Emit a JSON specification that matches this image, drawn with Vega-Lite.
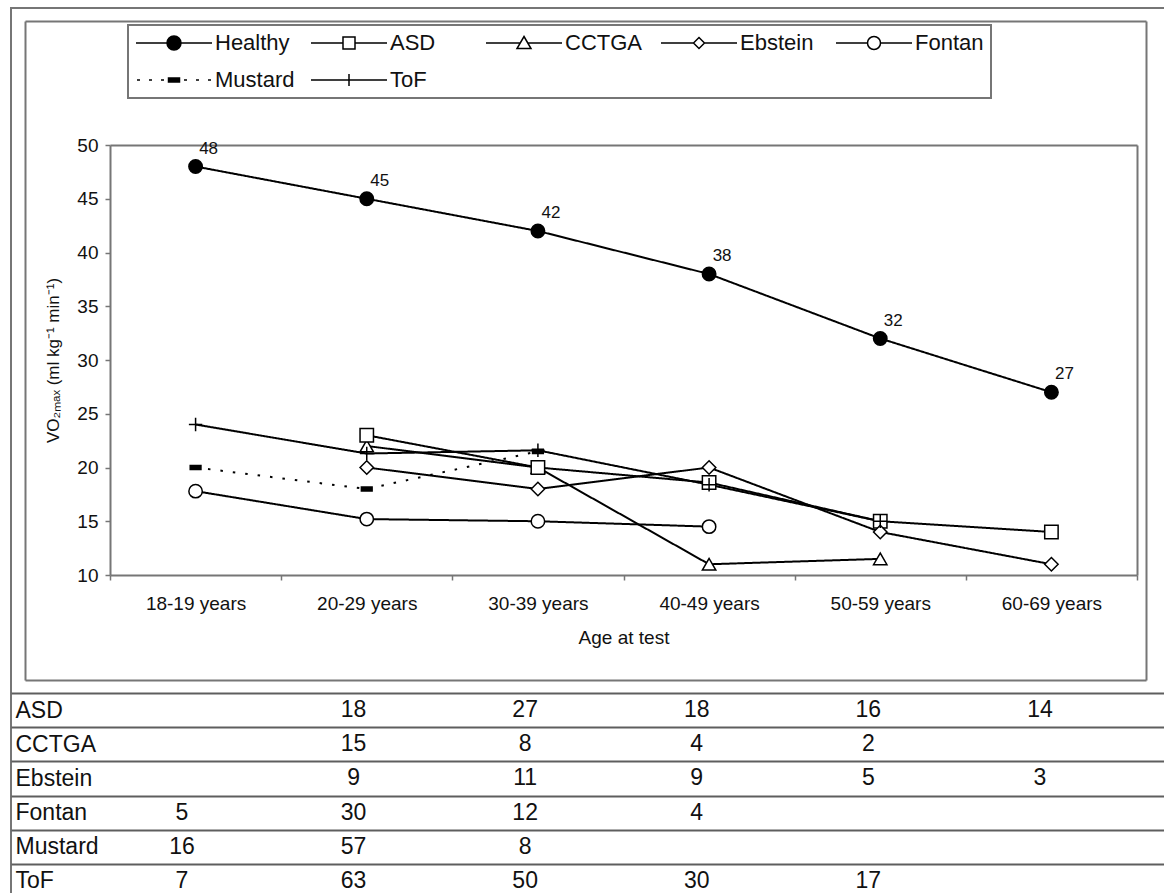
{
  "$schema": "https://vega.github.io/schema/vega-lite/v6.json",
  "width": 1160,
  "height": 895,
  "autosize": {"type": "none"},
  "padding": {"left": 11, "top": 8, "right": -7, "bottom": -10},
  "background": "white",
  "config": {
    "view": {"stroke": "#767676", "strokeWidth": 2},
    "font": "Liberation Sans",
    "axis": {
      "domainColor": "#767676",
      "domainWidth": 2,
      "tickColor": "#767676",
      "tickWidth": 1.5,
      "labelColor": "#111111",
      "titleColor": "#111111",
      "labelFont": "Liberation Sans",
      "titleFont": "Liberation Sans",
      "titleFontWeight": "normal",
      "grid": false
    },
    "legend": {"strokeWidth": 2},
    "text": {"font": "Liberation Sans", "color": "#111111"}
  },
  "datasets": {
    "vo2": [
      {"series": "Healthy", "age": "18-19 years", "vo2": 48},
      {"series": "Healthy", "age": "20-29 years", "vo2": 45},
      {"series": "Healthy", "age": "30-39 years", "vo2": 42},
      {"series": "Healthy", "age": "40-49 years", "vo2": 38},
      {"series": "Healthy", "age": "50-59 years", "vo2": 32},
      {"series": "Healthy", "age": "60-69 years", "vo2": 27},
      {"series": "CCTGA", "age": "20-29 years", "vo2": 22},
      {"series": "CCTGA", "age": "30-39 years", "vo2": 20},
      {"series": "CCTGA", "age": "40-49 years", "vo2": 11},
      {"series": "CCTGA", "age": "50-59 years", "vo2": 11.5},
      {"series": "ASD", "age": "20-29 years", "vo2": 23},
      {"series": "ASD", "age": "30-39 years", "vo2": 20},
      {"series": "ASD", "age": "40-49 years", "vo2": 18.6},
      {"series": "ASD", "age": "50-59 years", "vo2": 15},
      {"series": "ASD", "age": "60-69 years", "vo2": 14},
      {"series": "Ebstein", "age": "20-29 years", "vo2": 20},
      {"series": "Ebstein", "age": "30-39 years", "vo2": 18},
      {"series": "Ebstein", "age": "40-49 years", "vo2": 20},
      {"series": "Ebstein", "age": "50-59 years", "vo2": 14},
      {"series": "Ebstein", "age": "60-69 years", "vo2": 11},
      {"series": "Fontan", "age": "18-19 years", "vo2": 17.8},
      {"series": "Fontan", "age": "20-29 years", "vo2": 15.2},
      {"series": "Fontan", "age": "30-39 years", "vo2": 15},
      {"series": "Fontan", "age": "40-49 years", "vo2": 14.5},
      {"series": "Mustard", "age": "18-19 years", "vo2": 20},
      {"series": "Mustard", "age": "20-29 years", "vo2": 18},
      {"series": "Mustard", "age": "30-39 years", "vo2": 21.5},
      {"series": "ToF", "age": "18-19 years", "vo2": 24},
      {"series": "ToF", "age": "20-29 years", "vo2": 21.3},
      {"series": "ToF", "age": "30-39 years", "vo2": 21.6},
      {"series": "ToF", "age": "40-49 years", "vo2": 18.4},
      {"series": "ToF", "age": "50-59 years", "vo2": 15}
    ],
    "counts": [
      {"series": "ASD", "age": "20-29 years", "n": 18},
      {"series": "ASD", "age": "30-39 years", "n": 27},
      {"series": "ASD", "age": "40-49 years", "n": 18},
      {"series": "ASD", "age": "50-59 years", "n": 16},
      {"series": "ASD", "age": "60-69 years", "n": 14},
      {"series": "CCTGA", "age": "20-29 years", "n": 15},
      {"series": "CCTGA", "age": "30-39 years", "n": 8},
      {"series": "CCTGA", "age": "40-49 years", "n": 4},
      {"series": "CCTGA", "age": "50-59 years", "n": 2},
      {"series": "Ebstein", "age": "20-29 years", "n": 9},
      {"series": "Ebstein", "age": "30-39 years", "n": 11},
      {"series": "Ebstein", "age": "40-49 years", "n": 9},
      {"series": "Ebstein", "age": "50-59 years", "n": 5},
      {"series": "Ebstein", "age": "60-69 years", "n": 3},
      {"series": "Fontan", "age": "18-19 years", "n": 5},
      {"series": "Fontan", "age": "20-29 years", "n": 30},
      {"series": "Fontan", "age": "30-39 years", "n": 12},
      {"series": "Fontan", "age": "40-49 years", "n": 4},
      {"series": "Mustard", "age": "18-19 years", "n": 16},
      {"series": "Mustard", "age": "20-29 years", "n": 57},
      {"series": "Mustard", "age": "30-39 years", "n": 8},
      {"series": "ToF", "age": "18-19 years", "n": 7},
      {"series": "ToF", "age": "20-29 years", "n": 63},
      {"series": "ToF", "age": "30-39 years", "n": 50},
      {"series": "ToF", "age": "40-49 years", "n": 30},
      {"series": "ToF", "age": "50-59 years", "n": 17}
    ]
  },
  "resolve": {
    "scale": {"x": "independent", "y": "independent", "shape": "independent", "fill": "independent", "stroke": "independent", "strokeDash": "independent"},
    "axis": {"x": "independent", "y": "independent"},
    "legend": {"shape": "independent", "fill": "independent", "stroke": "independent", "strokeDash": "independent"}
  },
  "layer": [
    {
      "description": "Chart-area frame: top and left edges",
      "data": {"name": "vo2"},
      "mark": {"type": "point", "opacity": 0},
      "encoding": {
        "x": {"field": "age", "type": "nominal",
              "scale": {"type": "band", "domain": ["18-19 years", "20-29 years", "30-39 years", "40-49 years", "50-59 years", "60-69 years"], "range": [14, 1135], "paddingInner": 0, "paddingOuter": 0},
              "axis": {"orient": "top", "offset": -13, "labels": false, "ticks": false, "title": null}},
        "y": {"field": "vo2", "type": "quantitative",
              "scale": {"domain": [10, 50], "range": [672, 13], "zero": false, "nice": false},
              "axis": {"orient": "left", "offset": -14, "labels": false, "ticks": false, "title": null}}
      }
    },
    {
      "description": "Chart-area frame: bottom and right edges",
      "data": {"name": "vo2"},
      "mark": {"type": "point", "opacity": 0},
      "encoding": {
        "x": {"field": "age", "type": "nominal",
              "scale": {"type": "band", "domain": ["18-19 years", "20-29 years", "30-39 years", "40-49 years", "50-59 years", "60-69 years"], "range": [14, 1135], "paddingInner": 0, "paddingOuter": 0},
              "axis": {"orient": "bottom", "offset": -223, "labels": false, "ticks": false, "title": null}},
        "y": {"field": "vo2", "type": "quantitative",
              "scale": {"domain": [10, 50], "range": [672, 13], "zero": false, "nice": false},
              "axis": {"orient": "right", "offset": -25, "labels": false, "ticks": false, "title": null}}
      }
    },
    {
      "description": "Patient counts table under the chart",
      "data": {"name": "counts"},
      "mark": {"type": "text", "fontSize": 23, "baseline": "middle", "align": "center"},
      "encoding": {
        "x": {"field": "age", "type": "nominal",
              "scale": {"type": "band", "domain": ["18-19 years", "20-29 years", "30-39 years", "40-49 years", "50-59 years", "60-69 years"], "range": [0, 1160], "paddingInner": 0, "paddingOuter": 0.38, "align": 0.653},
              "axis": null},
        "y": {"field": "series", "type": "nominal",
              "scale": {"type": "band", "domain": ["ASD", "CCTGA", "Ebstein", "Fontan", "Mustard", "ToF"], "range": [685, 890], "paddingInner": 0, "paddingOuter": 0},
              "axis": {"orient": "left", "offset": 0, "domain": false, "ticks": false, "tickSize": 0,
                       "grid": true, "tickBand": "extent", "gridColor": "#5e5e5e", "gridWidth": 2,
                       "labelAlign": "left", "labelPadding": -4, "labelFontSize": 23, "labelBaseline": "middle", "title": null}},
        "text": {"field": "n", "type": "quantitative"}
      }
    },
    {
      "description": "Series lines with the plot axes",
      "data": {"name": "vo2"},
      "mark": {"type": "line", "strokeWidth": 2, "color": "black"},
      "encoding": {
        "x": {"field": "age", "type": "nominal",
              "scale": {"type": "band", "domain": ["18-19 years", "20-29 years", "30-39 years", "40-49 years", "50-59 years", "60-69 years"], "range": [99, 1126], "paddingInner": 0, "paddingOuter": 0},
              "axis": {"orient": "bottom", "offset": -328, "title": "Age at test", "titleFontSize": 19, "titlePadding": 15,
                       "labelFontSize": 19, "labelPadding": 14, "labelAngle": 0, "tickSize": 5, "tickBand": "extent"}},
        "y": {"field": "vo2", "type": "quantitative",
              "scale": {"domain": [10, 50], "range": [567, 137], "zero": false, "nice": false},
              "axis": {"orient": "left", "offset": -99, "values": [10, 15, 20, 25, 30, 35, 40, 45, 50],
                       "tickSize": 5, "labelPadding": 7, "labelFontSize": 19,
                       "title": "VO₂ₘₐₓ (ml kg⁻¹ min⁻¹)", "titleFontSize": 17, "titlePadding": 14}},
        "detail": {"field": "series", "type": "nominal"},
        "strokeDash": {"field": "series", "type": "nominal", "legend": null,
                       "scale": {"domain": ["Healthy", "ASD", "CCTGA", "Ebstein", "Fontan", "Mustard", "ToF"],
                                 "range": [[1, 0], [1, 0], [1, 0], [1, 0], [1, 0], [2.5, 10], [1, 0]]}}
      }
    },
    {
      "description": "Series markers; also carries the top and right edges of the plot box",
      "data": {"name": "vo2"},
      "mark": {"type": "point", "filled": true, "size": 180, "stroke": "black", "strokeWidth": 1.5, "opacity": 1},
      "encoding": {
        "x": {"field": "age", "type": "nominal",
              "scale": {"type": "band", "domain": ["18-19 years", "20-29 years", "30-39 years", "40-49 years", "50-59 years", "60-69 years"], "range": [99, 1126], "paddingInner": 0, "paddingOuter": 0},
              "axis": {"orient": "top", "offset": -137, "labels": false, "ticks": false, "title": null}},
        "y": {"field": "vo2", "type": "quantitative",
              "scale": {"domain": [10, 50], "range": [567, 137], "zero": false, "nice": false},
              "axis": {"orient": "right", "offset": -34, "labels": false, "ticks": false, "title": null}},
        "shape": {"field": "series", "type": "nominal", "legend": null,
                  "scale": {"domain": ["Healthy", "ASD", "CCTGA", "Ebstein", "Fontan", "Mustard", "ToF"],
                            "range": ["circle", "square", "triangle-up", "diamond", "circle", "M-0.8,-0.3H0.8V0.3H-0.8Z", "M-1,0H1M0,-1V1"]}},
        "fill": {"field": "series", "type": "nominal", "legend": null,
                 "scale": {"domain": ["Healthy", "ASD", "CCTGA", "Ebstein", "Fontan", "Mustard", "ToF"],
                           "range": ["black", "white", "white", "white", "white", "black", "white"]}}
      }
    },
    {
      "description": "Value labels on the Healthy series",
      "data": {"name": "vo2"},
      "transform": [{"filter": "datum.series === 'Healthy'"}],
      "mark": {"type": "text", "fontSize": 17, "dx": 13, "dy": -18, "align": "center", "baseline": "middle"},
      "encoding": {
        "x": {"field": "age", "type": "nominal",
              "scale": {"type": "band", "domain": ["18-19 years", "20-29 years", "30-39 years", "40-49 years", "50-59 years", "60-69 years"], "range": [99, 1126], "paddingInner": 0, "paddingOuter": 0},
              "axis": null},
        "y": {"field": "vo2", "type": "quantitative",
              "scale": {"domain": [10, 50], "range": [567, 137], "zero": false, "nice": false},
              "axis": null},
        "text": {"field": "vo2", "type": "quantitative"}
      }
    },
    {
      "description": "Legend: line-and-marker keys for each series",
      "data": {"name": "vo2"},
      "mark": {"type": "point", "filled": true, "opacity": 0, "strokeWidth": 1.5},
      "encoding": {
        "x": {"field": "age", "type": "nominal",
              "scale": {"type": "band", "domain": ["18-19 years", "20-29 years", "30-39 years", "40-49 years", "50-59 years", "60-69 years"], "range": [99, 1126], "paddingInner": 0, "paddingOuter": 0},
              "axis": null},
        "y": {"field": "vo2", "type": "quantitative",
              "scale": {"domain": [10, 50], "range": [567, 137], "zero": false, "nice": false},
              "axis": null},
        "shape": {"field": "series", "type": "nominal",
                  "scale": {"domain": ["Healthy", "ASD", "CCTGA", "Ebstein", "Fontan", "Mustard", "ToF"],
                            "range": [
                              "M-3.8,0H-0.7M0.7,0H3.8M-0.7,0A0.7,0.7,0,1,0,0.7,0A0.7,0.7,0,1,0,-0.7,0Z",
                              "M-3.8,0H-0.6M0.6,0H3.8M-0.6,-0.6H0.6V0.6H-0.6Z",
                              "M-3.8,0H-0.38M0.38,0H3.8M0,-0.65L0.7,0.55H-0.7Z",
                              "M-3.8,0H-0.55M0.55,0H3.8M-0.55,0L0,-0.55L0.55,0L0,0.55Z",
                              "M-3.8,0H-0.65M0.65,0H3.8M-0.65,0A0.65,0.65,0,1,0,0.65,0A0.65,0.65,0,1,0,-0.65,0Z",
                              "M-3.7,0H-3.4M-2.5,0H-2.2M-1.3,0H-1.0M1.0,0H1.3M2.2,0H2.5M3.4,0H3.7M-0.55,-0.2H0.55V0.2H-0.55Z",
                              "M-3.8,0H3.8M0,-0.6V0.6"
                            ]},
                  "legend": {
                    "title": null, "orient": "none", "legendX": 117, "legendY": 17,
                    "direction": "horizontal", "columns": 5, "gridAlign": "all",
                    "symbolSize": 400, "symbolStrokeWidth": 1.5, "symbolOpacity": 1, "symbolOffset": 28,
                    "labelFontSize": 22, "labelFont": "Liberation Sans", "labelColor": "#111111",
                    "labelOffset": 30, "columnPadding": 13, "rowPadding": 15, "padding": 7,
                    "strokeColor": "#767676"
                  }},
        "fill": {"field": "series", "type": "nominal",
                 "scale": {"domain": ["Healthy", "ASD", "CCTGA", "Ebstein", "Fontan", "Mustard", "ToF"],
                           "range": ["black", "white", "white", "white", "white", "black", "white"]},
                 "legend": {
                    "title": null, "orient": "none", "legendX": 117, "legendY": 17,
                    "direction": "horizontal", "columns": 5, "gridAlign": "all",
                    "symbolSize": 400, "symbolStrokeWidth": 1.5, "symbolOpacity": 1, "symbolOffset": 28,
                    "labelFontSize": 22, "labelFont": "Liberation Sans", "labelColor": "#111111",
                    "labelOffset": 30, "columnPadding": 13, "rowPadding": 15, "padding": 7,
                    "strokeColor": "#767676"
                 }},
        "stroke": {"field": "series", "type": "nominal",
                   "scale": {"domain": ["Healthy", "ASD", "CCTGA", "Ebstein", "Fontan", "Mustard", "ToF"],
                             "range": ["black", "black", "black", "black", "black", "black", "black"]},
                   "legend": {
                    "title": null, "orient": "none", "legendX": 117, "legendY": 17,
                    "direction": "horizontal", "columns": 5, "gridAlign": "all",
                    "symbolSize": 400, "symbolStrokeWidth": 1.5, "symbolOpacity": 1, "symbolOffset": 28,
                    "labelFontSize": 22, "labelFont": "Liberation Sans", "labelColor": "#111111",
                    "labelOffset": 30, "columnPadding": 13, "rowPadding": 15, "padding": 7,
                    "strokeColor": "#767676"
                   }}
      }
    }
  ]
}
